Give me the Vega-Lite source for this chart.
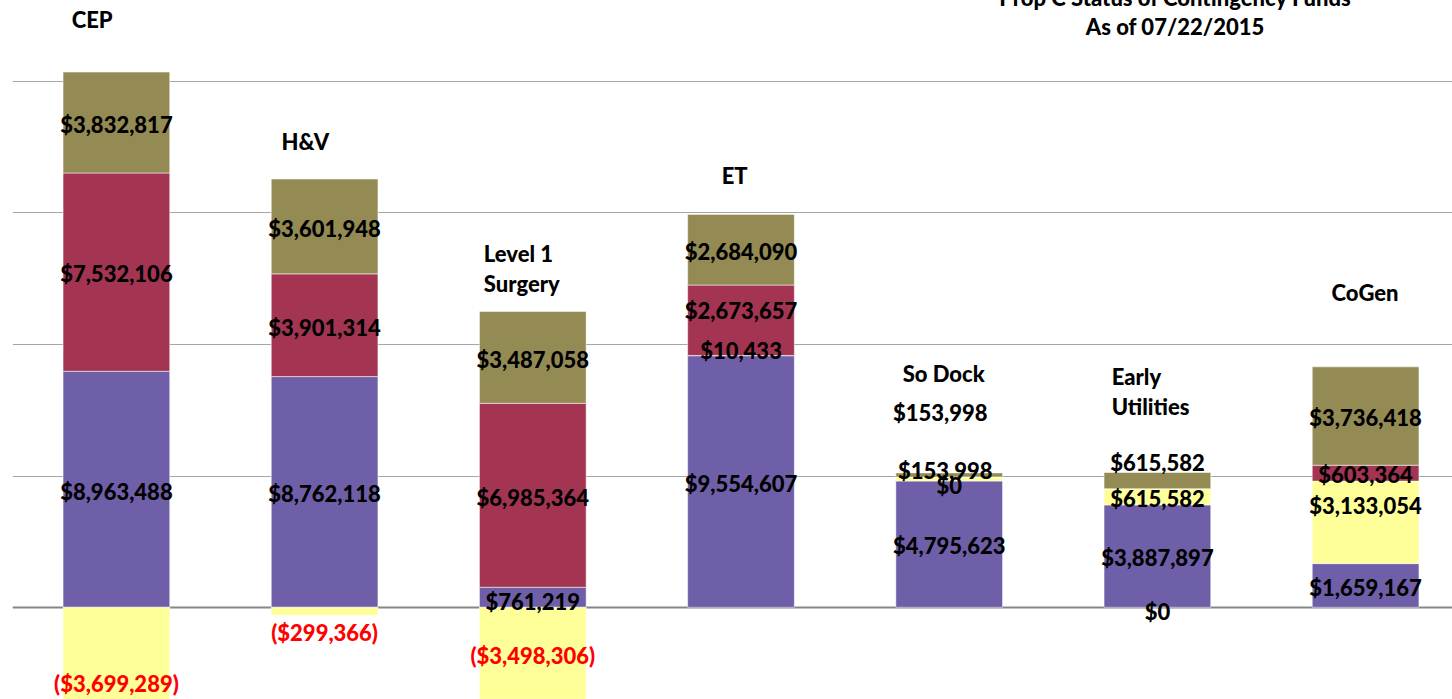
{
  "$schema": "https://vega.github.io/schema/vega-lite/v6.json",
  "width": 1439.7,
  "height": 699,
  "autosize": {"type": "none"},
  "padding": {"left": 12.3, "top": 0, "right": 0, "bottom": 0},
  "background": "white",
  "config": {"view": {"stroke": null}, "font": "Lato"},
  "title": {
    "text": ["Prop C Status of Contingency Funds", "As of 07/22/2015"],
    "font": "Lato",
    "fontSize": 22,
    "fontWeight": 900,
    "color": "#000000",
    "anchor": "middle",
    "frame": "group",
    "offset": -57,
    "baseline": "alphabetic",
    "lineHeight": 29,
    "dx": 442.85
  },
  "data": {
    "values": [
      {"category": "CEP", "series": "Used", "value": 8963488},
      {"category": "CEP", "series": "Transfers", "value": -3699289},
      {"category": "CEP", "series": "Remaining", "value": 7532106},
      {"category": "CEP", "series": "Net Available", "value": 3832817},
      {"category": "H&V", "series": "Used", "value": 8762118},
      {"category": "H&V", "series": "Transfers", "value": -299366},
      {"category": "H&V", "series": "Remaining", "value": 3901314},
      {"category": "H&V", "series": "Net Available", "value": 3601948},
      {"category": "Level 1 Surgery", "series": "Used", "value": 761219},
      {"category": "Level 1 Surgery", "series": "Transfers", "value": -3498306},
      {"category": "Level 1 Surgery", "series": "Remaining", "value": 6985364},
      {"category": "Level 1 Surgery", "series": "Net Available", "value": 3487058},
      {"category": "ET", "series": "Used", "value": 9554607},
      {"category": "ET", "series": "Transfers", "value": 10433},
      {"category": "ET", "series": "Remaining", "value": 2673657},
      {"category": "ET", "series": "Net Available", "value": 2684090},
      {"category": "So Dock", "series": "Used", "value": 4795623},
      {"category": "So Dock", "series": "Transfers", "value": 153998},
      {"category": "So Dock", "series": "Remaining", "value": 0},
      {"category": "So Dock", "series": "Net Available", "value": 153998},
      {"category": "Early Utilities", "series": "Used", "value": 3887897},
      {"category": "Early Utilities", "series": "Transfers", "value": 615582},
      {"category": "Early Utilities", "series": "Remaining", "value": 0},
      {"category": "Early Utilities", "series": "Net Available", "value": 615582},
      {"category": "CoGen", "series": "Used", "value": 1659167},
      {"category": "CoGen", "series": "Transfers", "value": 3133054},
      {"category": "CoGen", "series": "Remaining", "value": 603364},
      {"category": "CoGen", "series": "Net Available", "value": 3736418}
    ]
  },
  "transform": [
    {"calculate": "indexof(['Used','Transfers','Remaining','Net Available'], datum.series)", "as": "ord"},
    {"stack": "value", "groupby": ["category"], "sort": [{"field": "ord", "order": "ascending"}], "as": ["v0", "v1"], "offset": "zero"},
    {"calculate": "(datum.v0 + datum.v1) / 2", "as": "mid"},
    {"calculate": "datum.category + '|' + datum.series", "as": "key"}
  ],
  "encoding": {
    "x": {
      "field": "category",
      "type": "nominal",
      "sort": ["CEP", "H&V", "Level 1 Surgery", "ET", "So Dock", "Early Utilities", "CoGen"],
      "scale": {"range": [0, 1457.4], "paddingInner": 0.4875, "paddingOuter": 0.24375},
      "axis": null
    }
  },
  "layer": [
    {
      "mark": {"type": "bar", "stroke": "#FFFFFF", "strokeWidth": 1, "strokeOpacity": 0.5, "clip": true},
      "encoding": {
        "y": {
          "field": "v0",
          "type": "quantitative",
          "stack": null,
          "scale": {"domain": [-3483000, 23065000], "nice": false, "zero": false},
          "axis": {
            "values": [0, 5000000, 10000000, 15000000, 20000000],
            "labels": false,
            "ticks": false,
            "domain": false,
            "title": null,
            "grid": true,
            "gridColor": {"condition": {"test": "datum.value === 0", "value": "#868686"}, "value": "#A6A6A6"},
            "gridWidth": {"condition": {"test": "datum.value === 0", "value": 2}, "value": 1}
          }
        },
        "y2": {"field": "v1"},
        "color": {
          "field": "series",
          "type": "nominal",
          "scale": {"domain": ["Used", "Transfers", "Remaining", "Net Available"], "range": ["#6F5FA8", "#FFFF99", "#A33552", "#948A54"]},
          "legend": null
        }
      }
    },
    {
      "mark": {
        "type": "text",
        "font": "Lato",
        "fontSize": 22,
        "fontWeight": 900,
        "baseline": "middle",
        "align": "center",
        "dy": {"expr": "1.3 + [2,28,21,4,-10,-5,-62,-8,9,-18,123,-17][indexof(['CEP|Transfers','H&V|Transfers','Level 1 Surgery|Used','ET|Remaining','ET|Transfers','So Dock|Net Available','So Dock|Transfers','So Dock|Remaining','Early Utilities|Net Available','Early Utilities|Remaining','CoGen|Transfers'], datum.key) + 1]"},
        "dx": {"expr": "datum.key === 'So Dock|Net Available' ? -9 : (datum.key === 'So Dock|Transfers' ? -4 : 0)"}
      },
      "encoding": {
        "y": {"field": "mid", "type": "quantitative", "stack": null, "title": null},
        "text": {"field": "value", "type": "quantitative", "format": "($,.0f"},
        "color": {"condition": {"test": "datum.value < 0", "value": "#FF0000"}, "value": "#000000"}
      }
    },
    {
      "transform": [
        {"aggregate": [{"op": "max", "field": "v1", "as": "top"}], "groupby": ["category"]},
        {"calculate": "datum.category === 'Level 1 Surgery' ? 'Level 1\\nSurgery' : (datum.category === 'Early Utilities' ? 'Early\\nUtilities' : datum.category)", "as": "label"}
      ],
      "mark": {
        "type": "text",
        "font": "Lato",
        "fontSize": 22,
        "fontWeight": 900,
        "color": "#000000",
        "align": "left",
        "baseline": "middle",
        "lineBreak": "\n",
        "lineHeight": 30,
        "dx": {"expr": "[-44.7,-43,-49,-19.3,-46.5,-45.7,-34][indexof(['CEP','H&V','Level 1 Surgery','ET','So Dock','Early Utilities','CoGen'], datum.category)]"},
        "dy": {"expr": "1.3 + [-52.5,-37,-57.5,-38.4,-99,-95.5,-74][indexof(['CEP','H&V','Level 1 Surgery','ET','So Dock','Early Utilities','CoGen'], datum.category)]"}
      },
      "encoding": {
        "y": {"field": "top", "type": "quantitative", "stack": null, "title": null},
        "text": {"field": "label", "type": "nominal"}
      }
    }
  ]
}
